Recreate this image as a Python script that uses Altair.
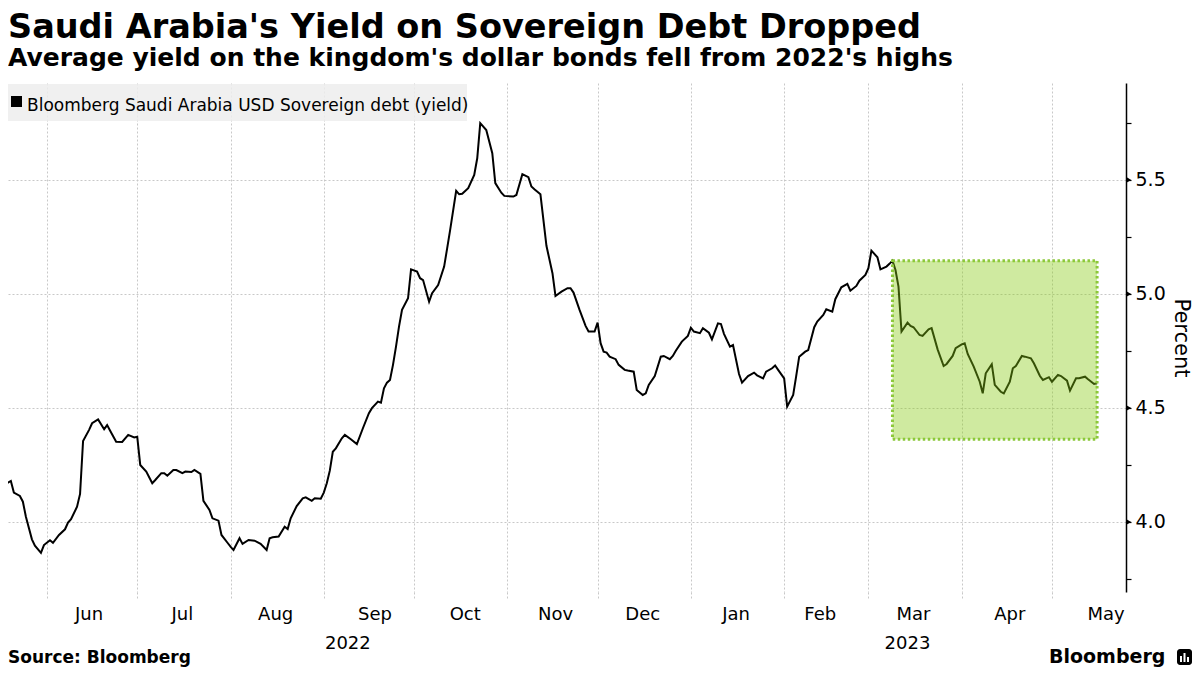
import altair as alt
import pandas as pd

# ---------------- data ----------------
dates = [
    "2022-05-16", "2022-05-18", "2022-05-20", "2022-05-21", "2022-05-23", "2022-05-24", "2022-05-25",
    "2022-05-27", "2022-05-28", "2022-05-30", "2022-05-31", "2022-06-02", "2022-06-03", "2022-06-05",
    "2022-06-07", "2022-06-08", "2022-06-09", "2022-06-11", "2022-06-12", "2022-06-13", "2022-06-15",
    "2022-06-16", "2022-06-18", "2022-06-20", "2022-06-21", "2022-06-22", "2022-06-24", "2022-06-26",
    "2022-06-28", "2022-06-30", "2022-07-01", "2022-07-02", "2022-07-04", "2022-07-06", "2022-07-07",
    "2022-07-09", "2022-07-10", "2022-07-11", "2022-07-13", "2022-07-14", "2022-07-16", "2022-07-17",
    "2022-07-19", "2022-07-20", "2022-07-22", "2022-07-23", "2022-07-25", "2022-07-26", "2022-07-28",
    "2022-07-29", "2022-07-31", "2022-08-01", "2022-08-02", "2022-08-04", "2022-08-05", "2022-08-07",
    "2022-08-09", "2022-08-11", "2022-08-13", "2022-08-14", "2022-08-15", "2022-08-17", "2022-08-19",
    "2022-08-20", "2022-08-21", "2022-08-23", "2022-08-25", "2022-08-26", "2022-08-28", "2022-08-29",
    "2022-08-31", "2022-09-01", "2022-09-02", "2022-09-03", "2022-09-04", "2022-09-05", "2022-09-07",
    "2022-09-08", "2022-09-10", "2022-09-12", "2022-09-14", "2022-09-16", "2022-09-17", "2022-09-19",
    "2022-09-20", "2022-09-21", "2022-09-22", "2022-09-23", "2022-09-24", "2022-09-25", "2022-09-26",
    "2022-09-27", "2022-09-29", "2022-09-30", "2022-10-02", "2022-10-03", "2022-10-04", "2022-10-06",
    "2022-10-07", "2022-10-09", "2022-10-11", "2022-10-12", "2022-10-13", "2022-10-15", "2022-10-16",
    "2022-10-17", "2022-10-19", "2022-10-21", "2022-10-22", "2022-10-23", "2022-10-25", "2022-10-27",
    "2022-10-28", "2022-10-30", "2022-10-31", "2022-11-03", "2022-11-04", "2022-11-06", "2022-11-08",
    "2022-11-09", "2022-11-10", "2022-11-12", "2022-11-14", "2022-11-16", "2022-11-17", "2022-11-19",
    "2022-11-21", "2022-11-22", "2022-11-23", "2022-11-25", "2022-11-27", "2022-11-28", "2022-11-30",
    "2022-12-01", "2022-12-02", "2022-12-03", "2022-12-04", "2022-12-05", "2022-12-07", "2022-12-08",
    "2022-12-10", "2022-12-11", "2022-12-13", "2022-12-14", "2022-12-16", "2022-12-17", "2022-12-18",
    "2022-12-20", "2022-12-22", "2022-12-23", "2022-12-25", "2022-12-26", "2022-12-27", "2022-12-29",
    "2022-12-31", "2023-01-01", "2023-01-02", "2023-01-04", "2023-01-05", "2023-01-07", "2023-01-08",
    "2023-01-10", "2023-01-11", "2023-01-12", "2023-01-14", "2023-01-15", "2023-01-17", "2023-01-18",
    "2023-01-20", "2023-01-22", "2023-01-23", "2023-01-25", "2023-01-26", "2023-01-28", "2023-01-29",
    "2023-01-30", "2023-02-01", "2023-02-02", "2023-02-04", "2023-02-05", "2023-02-06", "2023-02-08",
    "2023-02-09", "2023-02-11", "2023-02-12", "2023-02-14", "2023-02-15", "2023-02-17", "2023-02-18",
    "2023-02-20", "2023-02-22", "2023-02-23", "2023-02-25", "2023-02-26", "2023-02-28", "2023-03-01",
    "2023-03-02", "2023-03-04", "2023-03-05", "2023-03-07", "2023-03-08", "2023-03-09", "2023-03-10",
    "2023-03-11", "2023-03-12", "2023-03-14", "2023-03-15", "2023-03-16", "2023-03-18", "2023-03-19",
    "2023-03-21", "2023-03-22", "2023-03-24", "2023-03-26", "2023-03-27", "2023-03-29", "2023-03-30",
    "2023-04-01", "2023-04-02", "2023-04-03", "2023-04-05", "2023-04-07", "2023-04-08", "2023-04-09",
    "2023-04-11", "2023-04-12", "2023-04-14", "2023-04-15", "2023-04-17", "2023-04-18", "2023-04-19",
    "2023-04-21", "2023-04-22", "2023-04-24", "2023-04-25", "2023-04-27", "2023-04-28", "2023-04-30",
    "2023-05-01", "2023-05-03", "2023-05-04", "2023-05-06", "2023-05-07", "2023-05-09", "2023-05-10",
    "2023-05-12", "2023-05-13", "2023-05-15", "2023-05-16",
]
yields = [
    4.162, 4.165, 4.180, 4.129, 4.114, 4.089, 4.023,
    3.924, 3.896, 3.865, 3.899, 3.920, 3.909, 3.943,
    3.968, 3.997, 4.012, 4.067, 4.123, 4.355, 4.404,
    4.433, 4.450, 4.407, 4.425, 4.400, 4.352, 4.351,
    4.382, 4.371, 4.374, 4.250, 4.221, 4.170, 4.184,
    4.214, 4.214, 4.203, 4.228, 4.228, 4.214, 4.221,
    4.219, 4.228, 4.211, 4.093, 4.053, 4.016, 4.006,
    3.943, 3.909, 3.892, 3.877, 3.929, 3.904, 3.921,
    3.918, 3.904, 3.877, 3.929, 3.933, 3.936, 3.979,
    3.969, 4.016, 4.070, 4.104, 4.108, 4.093, 4.104,
    4.102, 4.129, 4.170, 4.225, 4.308, 4.323, 4.367,
    4.382, 4.363, 4.342, 4.411, 4.477, 4.499, 4.528,
    4.523, 4.586, 4.611, 4.623, 4.689, 4.769, 4.857,
    4.930, 4.981, 5.108, 5.098, 5.069, 5.061, 4.966,
    5.003, 5.039, 5.120, 5.200, 5.281, 5.452, 5.437,
    5.439, 5.464, 5.522, 5.595, 5.749, 5.719, 5.617,
    5.486, 5.444, 5.430, 5.427, 5.434, 5.525, 5.512,
    5.471, 5.459, 5.437, 5.211, 5.091, 4.991, 5.010,
    5.025, 5.025, 5.006, 4.930, 4.860, 4.835, 4.835,
    4.874, 4.784, 4.747, 4.743, 4.725, 4.714, 4.689,
    4.667, 4.664, 4.659, 4.579, 4.557, 4.564, 4.601,
    4.640, 4.725, 4.728, 4.714, 4.728, 4.751, 4.791,
    4.816, 4.852, 4.835, 4.828, 4.850, 4.830, 4.801,
    4.871, 4.868, 4.825, 4.769, 4.776, 4.649, 4.611,
    4.640, 4.655, 4.643, 4.630, 4.659, 4.674, 4.686,
    4.667, 4.630, 4.506, 4.557, 4.640, 4.725, 4.747,
    4.754, 4.854, 4.879, 4.908, 4.933, 4.922, 4.977,
    5.029, 5.044, 5.014, 5.035, 5.058, 5.083, 5.113,
    5.190, 5.161, 5.108, 5.120, 5.132, 5.146, 5.105,
    5.032, 4.835, 4.874, 4.860, 4.854, 4.820, 4.816,
    4.845, 4.850, 4.757, 4.684, 4.693, 4.728, 4.762,
    4.779, 4.784, 4.737, 4.681, 4.615, 4.564, 4.652,
    4.692, 4.601, 4.571, 4.564, 4.615, 4.674, 4.684,
    4.728, 4.725, 4.718, 4.696, 4.640, 4.623, 4.635,
    4.615, 4.645, 4.640, 4.620, 4.576, 4.630, 4.630,
    4.637, 4.626, 4.605, 4.608,
]

highlight_start = ["2023-03-09"]
highlight_end = ["2023-05-16"]
highlight_low = [4.363]
highlight_high = [5.146]

month_label_dates = ["2022-06-15", "2022-07-16", "2022-08-16", "2022-09-18", "2022-10-18", "2022-11-17",
                     "2022-12-16", "2023-01-16", "2023-02-13", "2023-03-16", "2023-04-17", "2023-05-19"]
month_labels = ["Jun", "Jul", "Aug", "Sep", "Oct", "Nov", "Dec", "Jan", "Feb", "Mar", "Apr", "May"]
year_label_dates = ["2022-09-09", "2023-03-14"]
year_labels = ["2022", "2023"]
gridline_months = [(2022, 6), (2022, 7), (2022, 8), (2022, 9), (2022, 10), (2022, 11), (2022, 12),
                   (2023, 1), (2023, 2), (2023, 3), (2023, 4), (2023, 5)]
y_tick_values = [3.75, 4.0, 4.25, 4.5, 4.75, 5.0, 5.25, 5.5, 5.75]
y_major_values = [4.0, 4.5, 5.0, 5.5]

title_text = "Saudi Arabia's Yield on Sovereign Debt Dropped"
subtitle_text = "Average yield on the kingdom's dollar bonds fell from 2022's highs"
legend_text = "Bloomberg Saudi Arabia USD Sovereign debt (yield)"
source_text = "Source: Bloomberg"
logo_text = "Bloomberg"

# ---------------- chart ----------------
FONT = "DejaVu Sans"
W, H = 1118, 509
GRID = "#c8c8c8"

df = pd.DataFrame({"date": dates, "yield": yields})
hl_df = pd.DataFrame({"start": highlight_start, "end": highlight_end,
                      "low": highlight_low, "high": highlight_high})

x_scale = alt.Scale(
    type="utc",
    domain=[alt.DateTime(year=2022, month=5, date=19, hours=1, minutes=15, utc=True),
            alt.DateTime(year=2023, month=5, date=25, hours=14, minutes=38, utc=True)],
)
y_scale = alt.Scale(domain=[3.693, 5.925], nice=False, zero=False)

x_axis = alt.Axis(
    values=[alt.DateTime(year=y, month=m, date=1, utc=True) for y, m in gridline_months],
    grid=True, gridColor=GRID, gridDash=[2, 2], gridWidth=1,
    labels=False, ticks=True, tickSize=6, tickColor=GRID, tickDash=[2, 2],
    domain=False, title=None,
)
y_axis = alt.Axis(
    orient="right", values=y_tick_values,
    labelExpr="round(datum.value*4) % 2 == 0 ? format(datum.value, '.1f') : ''",
    grid=True, gridColor=GRID, gridDash=[2, 2], gridWidth=1,
    gridOpacity={"condition": {"test": "round(datum.value*4) % 2 == 0", "value": 1}, "value": 0},
    domainColor="black", domainWidth=1.5,
    tickColor="black", tickSize=5, tickWidth=1.2,
    labelFont=FONT, labelFontSize=19, labelColor="black", labelPadding=4,
    title="Percent", titleFont=FONT, titleFontSize=21, titleFontWeight="normal",
    titleColor="black", titleAngle=90, titleX=48, titleY=H / 2,
    titleAlign="center", titleBaseline="alphabetic",
)

line = alt.Chart(df).mark_line(color="black", strokeWidth=2, clip=True).encode(
    x=alt.X("date:T", scale=x_scale, axis=x_axis),
    y=alt.Y("yield:Q", scale=y_scale, axis=y_axis),
)

highlight = alt.Chart(hl_df).mark_rect(
    fill="#87ca12", fillOpacity=0.4, stroke="#8cc83a", strokeOpacity=1,
    strokeWidth=3, strokeDash=[2.5, 2.5],
).encode(
    x=alt.X("start:T", scale=x_scale, axis=None), x2="end:T",
    y=alt.Y("low:Q", scale=y_scale, axis=None), y2="high:Q",
)

triangles = alt.Chart(pd.DataFrame({"v": y_major_values})).mark_point(
    shape="triangle-right", filled=True, color="black", size=26, opacity=1
).encode(x=alt.value(W + 3), y=alt.Y("v:Q", scale=y_scale, axis=None))

months = alt.Chart(pd.DataFrame({"d": month_label_dates, "t": month_labels})).mark_text(
    font=FONT, fontSize=18, color="black", baseline="alphabetic", align="center"
).encode(x=alt.X("d:T", scale=x_scale, axis=None), y=alt.value(537), text="t:N")

years = alt.Chart(pd.DataFrame({"d": year_label_dates, "t": year_labels})).mark_text(
    font=FONT, fontSize=18, color="black", baseline="alphabetic", align="center"
).encode(x=alt.X("d:T", scale=x_scale, axis=None), y=alt.value(566), text="t:N")

one = pd.DataFrame({"k": [0]})


def label(text, x, y, size, weight="normal", align="left"):
    return alt.Chart(pd.DataFrame({"t": [text]})).mark_text(
        font=FONT, fontSize=size, fontWeight=weight, color="black",
        baseline="alphabetic", align=align,
    ).encode(x=alt.value(x), y=alt.value(y), text="t:N")


def box(x1, x2, y1, y2, color, **kw):
    return alt.Chart(one).mark_rect(fill=color, **kw).encode(
        x=alt.value(x1), x2=alt.value(x2), y=alt.value(y1), y2=alt.value(y2))


legend_box = box(0, 459, 1, 38, "#ededed", opacity=0.85)
legend_square = box(3, 14, 13, 24, "black")
icon = box(1169, 1184, 566, 582, "black", cornerRadius=3)
icon_bar1 = box(1172, 1174, 573, 579, "white")
icon_bar2 = box(1175.5, 1177.5, 570, 579, "white")
icon_bar3 = box(1179, 1181, 574, 579, "white")

chart = alt.layer(
    line, highlight, triangles, months, years,
    legend_box, legend_square,
    label(legend_text, 19, 27.5, 17),
    label(title_text, 0, -45, 33.5, "bold"),
    label(subtitle_text, 0, -17, 25, "bold"),
    label(source_text, 0, 580, 17, "bold"),
    label(logo_text, 1041, 580, 19, "bold"),
    icon, icon_bar1, icon_bar2, icon_bar3,
).resolve_axis(
    x="independent", y="independent"
).properties(
    width=W, height=H,
    padding={"left": 0, "top": 75, "right": 66, "bottom": 75},
    autosize=alt.AutoSizeParams(type="none"),
    background="white",
).configure_view(stroke=None)

chart.save("out.html", embed_options={"renderer": "svg", "actions": False})
